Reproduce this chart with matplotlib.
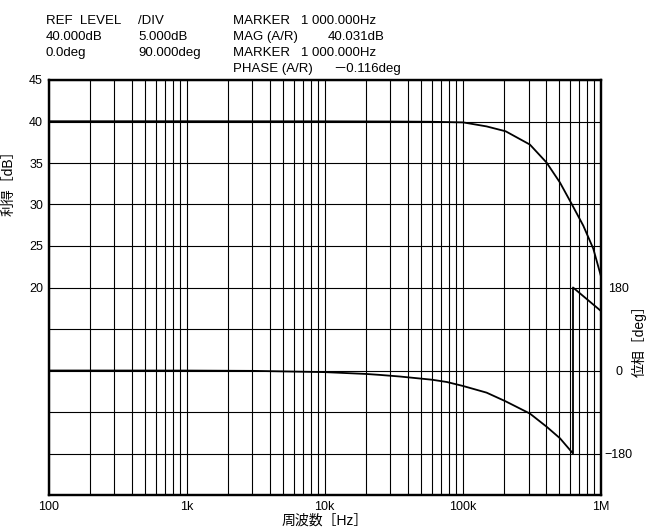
import numpy as np
import matplotlib
matplotlib.use('Agg')
import matplotlib.pyplot as plt
from matplotlib.ticker import LogLocator, NullFormatter, FixedLocator

plt.rcParams['font.family'] = ['Liberation Sans', 'Noto Sans CJK JP']
plt.rcParams['axes.unicode_minus'] = True

# 利得の周波数特性
gain_freq = [100, 1e3, 10e3, 30e3, 58e3, 101e3, 149e3, 205e3, 307e3, 406e3, 507e3, 617e3, 748e3, 884e3, 1e6]
gain_db = [40.03, 40.031, 40.02, 40.0, 39.97, 39.89, 39.41, 38.82, 37.22, 35.04, 32.64, 30.05, 27.45, 24.67, 21.47]

# 位相の周波数特性（-180degで折り返し）
phase_freq = [100, 1e3, 3e3, 10e3, 20e3, 25e3, 35e3, 60e3, 77e3, 101e3, 149e3, 205e3, 307e3, 406e3, 507e3,
              630e3, 630e3, 792e3, 1e6]
phase_deg = [0, -0.116, -0.8, -3.5, -7.5, -9.5, -13, -20, -25, -33.7, -48, -66.9, -93.4, -122, -147,
             -180, 180, 155, 129.5]

gain_ticks = [45, 40, 35, 30, 25, 20]
phase_ticks = [180, 0, -180]
phase_labels = ['180', '0', '\u2212180']
freq_ticks = [100, 1e3, 1e4, 1e5, 1e6]
freq_labels = ['100', '1k', '10k', '100k', '1M']

W, H = 648, 528
fig = plt.figure(figsize=(W / 100, H / 100), dpi=100)
ax = fig.add_axes([48.5 / W, 1 - 495 / H, (600.7 - 48.5) / W, (495 - 80) / H])

ax.plot(gain_freq, gain_db, color='black', lw=1.3, zorder=5)
ax.set_xscale('log')
ax.set_xlim(100, 1e6)
ax.set_ylim(-5, 45)

# 目盛線
ax.xaxis.set_minor_locator(LogLocator(base=10, subs=np.arange(2, 10)))
ax.xaxis.set_minor_formatter(NullFormatter())
ax.set_xticks(freq_ticks)
ax.set_xticklabels(freq_labels)
ax.yaxis.set_major_locator(FixedLocator(np.arange(-5, 46, 5)))
ax.set_yticklabels([str(v) if v in gain_ticks else '' for v in np.arange(-5, 46, 5)])
ax.grid(which='both', color='black', lw=0.8)
ax.tick_params(which='both', length=0, labelsize=9)
ax.tick_params(axis='x', pad=4)
ax.tick_params(axis='y', pad=4)
for s in ax.spines.values():
    s.set_linewidth(1.6)
ax.set_xlabel('周波数［Hz］', fontsize=10, labelpad=1)
ax.set_ylabel('利得［dB］', fontsize=10, labelpad=4)
ax.yaxis.set_label_coords(-0.06, 0.76)

ax2 = ax.twinx()
ax2.plot(phase_freq, phase_deg, color='black', lw=1.3, zorder=5)
ax2.set_ylim(-270, 630)
ax2.set_yticks(phase_ticks)
ax2.set_yticklabels(phase_labels)
ax2.tick_params(length=0, labelsize=9, pad=13)
for lab in ax2.get_yticklabels():
    lab.set_horizontalalignment('center')
for s in ax2.spines.values():
    s.set_linewidth(1.6)
ax2.set_ylabel('位相［deg］', fontsize=10, labelpad=8)
ax2.yaxis.set_label_coords(1.056, 0.38)

# 測定条件
hdr = [
    (46, 21, 'REF  LEVEL'), (138, 21, '/DIV'), (233, 21, 'MARKER   1 000.000Hz'),
    (46, 37, '40.000dB'), (138, 37, '5.000dB'), (233, 37, 'MAG (A/R)'), (328, 37, '40.031dB'),
    (46, 53, '0.0deg'), (138, 53, '90.000deg'), (233, 53, 'MARKER   1 000.000Hz'),
    (233, 69, 'PHASE (A/R)'), (333, 69, '\uff0d0.116deg'),
]
for x, y, t in hdr:
    fig.text(x / W, 1 - y / H, t, fontsize=9.5, va='center', ha='left')

fig.savefig('out.png', dpi=100)
